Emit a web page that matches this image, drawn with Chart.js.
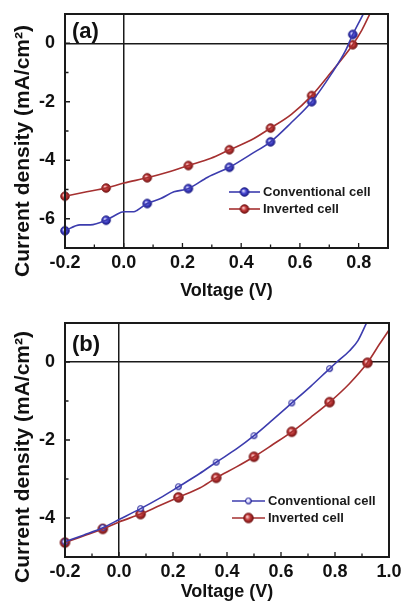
<!DOCTYPE html>
<html>
<head>
<meta charset="utf-8">
<script src="https://cdn.jsdelivr.net/npm/chart.js@4.4.1/dist/chart.umd.min.js"></script>
<style>
  html, body { margin: 0; padding: 0; background: #fff; }
  #wrap { position: relative; width: 402px; height: 613px; }
  canvas { position: absolute; left: 0; }
  #cA { top: 0; }
  #cB { top: 302px; }
</style>
</head>
<body>
<div id="wrap">
  <canvas id="cA" width="402" height="302"></canvas>
  <canvas id="cB" width="402" height="311"></canvas>
</div>
<script>
var FONT = '"Liberation Sans", Arial, sans-serif';

// ---- panel (a) ----
var aConvV = [-0.2, -0.149, -0.114, -0.06, -0.029, 0.0, 0.034, 0.046, 0.08, 0.126, 0.171, 0.22, 0.286, 0.36, 0.434, 0.5, 0.571, 0.64, 0.709, 0.754, 0.78, 0.817];
var aConvJ = [-6.41, -6.21, -6.21, -6.05, -5.88, -5.76, -5.76, -5.71, -5.48, -5.31, -5.08, -4.97, -4.58, -4.24, -3.79, -3.37, -2.71, -2.0, -1.02, -0.28, 0.3, 1.02];
var aInvV = [-0.2, -0.126, -0.06, 0.0, 0.08, 0.149, 0.22, 0.297, 0.36, 0.434, 0.5, 0.571, 0.64, 0.709, 0.754, 0.78, 0.811, 0.84];
var aInvJ = [-5.23, -5.08, -4.95, -4.78, -4.6, -4.41, -4.18, -3.93, -3.64, -3.31, -2.9, -2.43, -1.79, -0.96, -0.4, -0.05, 0.45, 1.04];
var aMarkV = [-0.2, -0.06, 0.08, 0.22, 0.36, 0.5, 0.64, 0.78];
var aConvMark = [-6.41, -6.05, -5.48, -4.97, -4.24, -3.37, -2.0, 0.3];
var aInvMark = [-5.23, -4.95, -4.6, -4.18, -3.64, -2.9, -1.79, -0.05];
var aXTicks = [-0.2, 0.0, 0.2, 0.4, 0.6, 0.8];
var aYTicks = [-6, -4, -2, 0];

// ---- panel (b) ----
var bConvV = [-0.2, -0.132, -0.06, 0.0, 0.08, 0.151, 0.22, 0.299, 0.36, 0.435, 0.5, 0.571, 0.64, 0.712, 0.78, 0.807, 0.854, 0.885, 0.916];
var bConvJ = [-4.61, -4.44, -4.25, -4.04, -3.76, -3.49, -3.2, -2.86, -2.57, -2.23, -1.89, -1.47, -1.05, -0.61, -0.17, 0.0, 0.29, 0.55, 0.99];
var bInvV = [-0.2, -0.132, -0.06, 0.0, 0.08, 0.151, 0.22, 0.299, 0.36, 0.435, 0.5, 0.571, 0.64, 0.712, 0.78, 0.854, 0.92, 0.965, 1.0];
var bInvJ = [-4.63, -4.46, -4.28, -4.1, -3.9, -3.68, -3.47, -3.23, -2.97, -2.69, -2.43, -2.11, -1.79, -1.41, -1.03, -0.55, -0.02, 0.46, 0.82];
var bConvMarkV = [-0.2, -0.06, 0.08, 0.22, 0.36, 0.5, 0.64, 0.78];
var bConvMark = [-4.61, -4.25, -3.76, -3.2, -2.57, -1.89, -1.05, -0.17];
var bInvMarkV = [-0.2, -0.06, 0.08, 0.22, 0.36, 0.5, 0.64, 0.78, 0.92];
var bInvMark = [-4.63, -4.28, -3.9, -3.47, -2.97, -2.43, -1.79, -1.03, -0.02];
var bXTicks = [-0.2, 0.0, 0.2, 0.4, 0.6, 0.8, 1.0];
var bYTicks = [-4, -2, 0];

var seriesNames = ['Conventional cell', 'Inverted cell'];
var yTitle = 'Current density (mA/cm\u00B2)';
var xTitle = 'Voltage (V)';

var BLUE = '#3c3cae', RED = '#a53030';

function pts(xs, ys) {
	return xs.map(function(x, i){ return {x: x, y: ys[i]}; });
}

// shaded ball used as marker
function ball(col, dark, r, light) {
	var c = document.createElement('canvas');
	var s = Math.ceil(2 * r + 3);
	c.width = c.height = s;
	var g = c.getContext('2d'), m = s / 2;
	var grd = g.createRadialGradient(m - r * 0.3, m - r * 0.3, 0.2, m, m, r);
	grd.addColorStop(0, light);
	grd.addColorStop(0.5, col);
	grd.addColorStop(1, dark);
	g.fillStyle = grd;
	g.beginPath(); g.arc(m, m, r, 0, 2 * Math.PI); g.fill();
	g.lineWidth = 0.9; g.strokeStyle = dark; g.stroke();
	return c;
}

var blueBall = ball('#4a4ad4', '#1c1c86', 4.3, '#e8e8ff');
var redBall = ball('#c43a3a', '#761414', 4.3, '#ffd8d8');
var blueSmall = ball('#d8d8ff', '#2a2a9a', 3.0, '#ffffff');
var redBig = ball('#c43a3a', '#761414', 4.8, '#ffd8d8');

var framePlugin = {
	id: 'frame',
	afterDraw: function(chart, args, opts) {
		var ctx = chart.ctx, a = chart.chartArea;
		var xs = chart.scales.x, ys = chart.scales.y;
		ctx.save();
		ctx.strokeStyle = '#1a1a1a';
		// inside ticks (major at labels, minor halfway)
		ctx.lineWidth = 1.3;
		ctx.beginPath();
		for (var v = Math.ceil(xs.min * 10 - 1e-6); v <= xs.max * 10 + 1e-6; v++) {
			var px = xs.getPixelForValue(v / 10);
			var len = (Math.abs(v) % 2 === 0) ? 5 : 3.5;
			ctx.moveTo(px, a.bottom); ctx.lineTo(px, a.bottom - len);
		}
		for (var w = Math.ceil(ys.min); w <= ys.max; w++) {
			var py = ys.getPixelForValue(w);
			var l2 = (Math.abs(w) % 2 === 0) ? 5 : 3.5;
			ctx.moveTo(a.left, py); ctx.lineTo(a.left + l2, py);
		}
		ctx.stroke();
		// box
		ctx.lineWidth = 2;
		ctx.strokeRect(a.left, a.top, a.right - a.left, a.bottom - a.top);

		// panel letter
		ctx.fillStyle = '#111';
		ctx.font = 'bold 22px ' + FONT;
		ctx.textAlign = 'left'; ctx.textBaseline = 'middle';
		ctx.fillText(opts.label, a.left + 7, a.top + opts.labelDy);

		// y title
		ctx.save();
		ctx.translate(opts.yTitleX, opts.yTitleY);
		ctx.rotate(-Math.PI / 2);
		ctx.font = 'bold 21px ' + FONT;
		ctx.textAlign = 'center'; ctx.textBaseline = 'middle';
		ctx.fillText(yTitle, 0, 0);
		ctx.restore();

		// legend
		var lg = opts.legend;
		ctx.font = 'bold 13px ' + FONT;
		ctx.textBaseline = 'middle';
		[[BLUE, lg.balls[0]], [RED, lg.balls[1]]].forEach(function(s, i){
			var y = lg.y + i * lg.dy;
			ctx.strokeStyle = s[0]; ctx.lineWidth = 1.6;
			ctx.beginPath(); ctx.moveTo(lg.x, y); ctx.lineTo(lg.x + lg.len, y); ctx.stroke();
			var img = s[1];
			ctx.drawImage(img, lg.x + lg.len / 2 - img.width / 2, y - img.height / 2);
			ctx.fillStyle = '#1a1a1a';
			ctx.fillText(seriesNames[i], lg.x + lg.len + 3, y + 0.5);
		});
		ctx.restore();
	}
};

function fixTicks(list) {
	return function(s){ s.ticks = list.map(function(v){ return {value: v}; }); };
}

function makePanel(id, o) {
	return new Chart(document.getElementById(id).getContext('2d'), {
		type: 'scatter',
		data: {
			datasets: [
				{ data: pts(o.convV, o.convJ), showLine: true, borderColor: BLUE, borderWidth: 1.6, pointRadius: 0, cubicInterpolationMode: 'monotone' },
				{ data: pts(o.invV, o.invJ), showLine: true, borderColor: RED, borderWidth: 1.6, pointRadius: 0, cubicInterpolationMode: 'monotone' },
				{ data: pts(o.convMarkV, o.convMark), showLine: false, pointStyle: o.convBall, pointRadius: 4, clip: 6 },
				{ data: pts(o.invMarkV, o.invMark), showLine: false, pointStyle: o.invBall, pointRadius: 4, clip: 6 }
			]
		},
		options: {
			responsive: false,
			devicePixelRatio: 1,
			animation: false,
			layout: { padding: { top: o.padTop, right: o.padRight, left: 0, bottom: 0 } },
			plugins: {
				legend: { display: false },
				tooltip: { enabled: false },
				frame: o.frame
			},
			scales: {
				x: {
					type: 'linear', min: o.xMin, max: o.xMax,
					ticks: { padding: 4, color: '#111', font: { family: FONT, size: 18, weight: 'bold' },
						callback: function(v){ return (Math.abs(v) < 1e-9 ? 0 : v).toFixed(1); } },
					afterBuildTicks: fixTicks(o.xTicks),
					afterFit: function(s){ s.height = o.xAxisH; s.paddingLeft = 0; s.paddingRight = 0; },
					grid: { drawTicks: false, lineWidth: 1.5, color: function(c){ return (c.tick && Math.abs(c.tick.value) < 1e-9) ? '#1a1a1a' : 'rgba(0,0,0,0)'; } },
					border: { display: false },
					title: { display: true, text: xTitle, color: '#111', padding: { top: 0, bottom: o.xTitlePad }, font: { family: FONT, size: 18, weight: 'bold' } }
				},
				y: {
					type: 'linear', min: o.yMin, max: o.yMax,
					ticks: { padding: 10, color: '#111', font: { family: FONT, size: 18, weight: 'bold' } },
					afterBuildTicks: fixTicks(o.yTicks),
					afterFit: function(s){ s.width = 65; s.paddingTop = 0; s.paddingBottom = 0; },
					grid: { drawTicks: false, lineWidth: 1.5, color: function(c){ return (c.tick && c.tick.value === 0) ? '#1a1a1a' : 'rgba(0,0,0,0)'; } },
					border: { display: false }
				}
			}
		},
		plugins: [framePlugin]
	});
}

var chartA = makePanel('cA', {
	convV: aConvV, convJ: aConvJ, invV: aInvV, invJ: aInvJ,
	convMarkV: aMarkV, convMark: aConvMark, invMarkV: aMarkV, invMark: aInvMark,
	convBall: blueBall, invBall: redBall,
	xMin: -0.2, xMax: 0.9, yMin: -7, yMax: 1, xTicks: aXTicks, yTicks: aYTicks,
	padTop: 14, padRight: 14, xAxisH: 54, xTitlePad: 0,
	frame: { label: '(a)', labelDy: 18, yTitleX: 23, yTitleY: 151,
		legend: { x: 229, y: 192, dy: 17, len: 31, balls: [blueBall, redBall] } }
});

var chartB = makePanel('cB', {
	convV: bConvV, convJ: bConvJ, invV: bInvV, invJ: bInvJ,
	convMarkV: bConvMarkV, convMark: bConvMark, invMarkV: bInvMarkV, invMark: bInvMark,
	convBall: blueSmall, invBall: redBig,
	xMin: -0.2, xMax: 1.0, yMin: -5, yMax: 1, xTicks: bXTicks, yTicks: bYTicks,
	padTop: 21, padRight: 13, xAxisH: 56, xTitlePad: 10,
	frame: { label: '(b)', labelDy: 22, yTitleX: 23, yTitleY: 155,
		legend: { x: 232, y: 199, dy: 17, len: 33, balls: [blueSmall, redBig] } }
});
</script>
</body>
</html>
